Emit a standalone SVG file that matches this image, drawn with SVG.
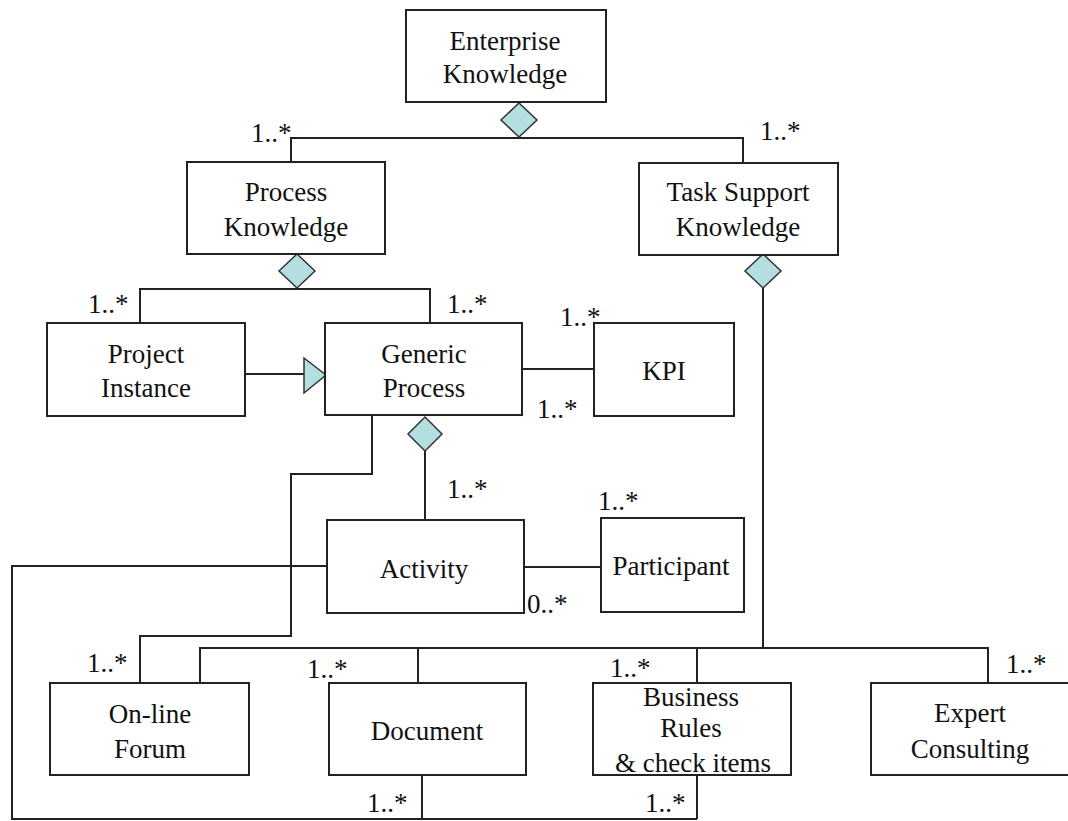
<svg xmlns="http://www.w3.org/2000/svg" width="1068" height="821" viewBox="0 0 1068 821">
<style>
.box{fill:#fff;stroke:#222;stroke-width:2}
.ln{fill:none;stroke:#222;stroke-width:2}
.dia{fill:#b3dfe0;stroke:#333;stroke-width:1.5}
text{font-family:"Liberation Serif","Times New Roman",serif;font-size:27px;fill:#111}
.c{text-anchor:middle}
</style>
<rect width="1068" height="821" fill="#fff"/>
<g id="connectors">
<polyline class="ln" points="291,162 291,138 743,138 743,163"/>
<polyline class="ln" points="140,323 140,289 430,289 430,323"/>
<line class="ln" x1="245" y1="374" x2="304" y2="374"/>
<line class="ln" x1="522" y1="369" x2="594" y2="369"/>
<line class="ln" x1="425" y1="451" x2="425" y2="520"/>
<line class="ln" x1="524" y1="567" x2="601" y2="567"/>
<polyline class="ln" points="372,415 372,474 291,474 291,636 140,636 140,683"/>
<polyline class="ln" points="327,566 12,566 12,819 697,819"/>
<line class="ln" x1="422" y1="775" x2="422" y2="819"/>
<line class="ln" x1="697" y1="775" x2="697" y2="819"/>
<line class="ln" x1="763" y1="287" x2="763" y2="648"/>
<polyline class="ln" points="200,683 200,648 988,648 988,683"/>
<line class="ln" x1="418" y1="648" x2="418" y2="683"/>
<line class="ln" x1="697" y1="648" x2="697" y2="683"/>
<polygon class="dia" points="519,103 537,120 519,137 501,120"/>
<polygon class="dia" points="297,254 315,271 297,288 279,271"/>
<polygon class="dia" points="763,254 781,271 763,288 745,271"/>
<polygon class="dia" points="425,417 442,434 425,451 408,434"/>
<polygon class="dia" points="304,358 326,375 304,393"/>
<text x="251" y="142">1..*</text>
<text x="760" y="140">1..*</text>
<text x="88" y="313">1..*</text>
<text x="447" y="313">1..*</text>
<text x="560" y="326">1..*</text>
<text x="537" y="418">1..*</text>
<text x="447" y="498">1..*</text>
<text x="598" y="510">1..*</text>
<text x="527" y="613">0..*</text>
<text x="87" y="672">1..*</text>
<text x="307" y="678">1..*</text>
<text x="610" y="677">1..*</text>
<text x="1006" y="673">1..*</text>
<text x="367" y="812">1..*</text>
<text x="645" y="812">1..*</text>
</g>
<g id="enterprise-knowledge">
<rect class="box" x="406" y="10" width="200" height="92"/>
<text class="c" x="505" y="50">Enterprise</text>
<text class="c" x="505" y="83">Knowledge</text>
</g>
<g id="process-knowledge">
<rect class="box" x="187" y="162" width="198" height="92"/>
<text class="c" x="286" y="201">Process</text>
<text class="c" x="286" y="236">Knowledge</text>
</g>
<g id="task-support-knowledge">
<rect class="box" x="639" y="163" width="199" height="92"/>
<text class="c" x="738" y="201">Task Support</text>
<text class="c" x="738" y="236">Knowledge</text>
</g>
<g id="project-instance">
<rect class="box" x="47" y="323" width="198" height="93"/>
<text class="c" x="146" y="363">Project</text>
<text class="c" x="146" y="397">Instance</text>
</g>
<g id="generic-process">
<rect class="box" x="325" y="323" width="197" height="92"/>
<text class="c" x="424" y="363">Generic</text>
<text class="c" x="424" y="397">Process</text>
</g>
<g id="kpi">
<rect class="box" x="594" y="323" width="140" height="93"/>
<text class="c" x="664" y="380">KPI</text>
</g>
<g id="activity">
<rect class="box" x="327" y="520" width="197" height="93"/>
<text class="c" x="424" y="578">Activity</text>
</g>
<g id="participant">
<rect class="box" x="601" y="518" width="143" height="94"/>
<text class="c" x="671" y="575">Participant</text>
</g>
<g id="online-forum">
<rect class="box" x="50" y="683" width="199" height="92"/>
<text class="c" x="150" y="723">On-line</text>
<text class="c" x="150" y="758">Forum</text>
</g>
<g id="document">
<rect class="box" x="329" y="683" width="197" height="92"/>
<text class="c" x="427" y="740">Document</text>
</g>
<g id="business-rules">
<rect class="box" x="593" y="683" width="198" height="92"/>
<text class="c" x="691" y="706">Business</text>
<text class="c" x="691" y="737">Rules</text>
<text class="c" x="693" y="772">&amp; check items</text>
</g>
<g id="expert-consulting">
<rect class="box" x="871" y="683" width="210" height="92"/>
<text class="c" x="970" y="722">Expert</text>
<text class="c" x="970" y="758">Consulting</text>
</g>
</svg>
